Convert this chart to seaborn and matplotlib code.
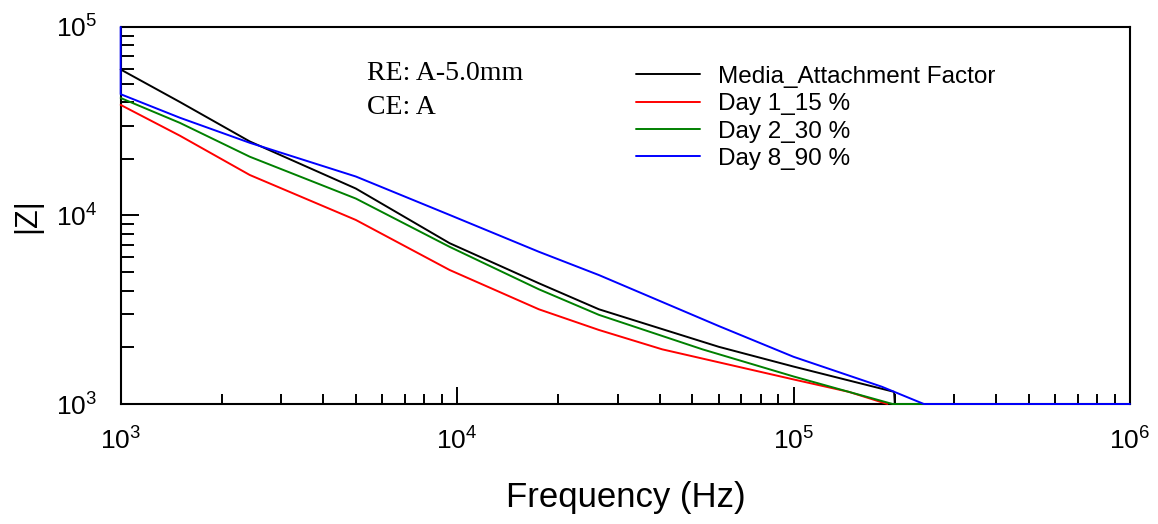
import matplotlib
matplotlib.use("Agg")

import numpy as np
import pandas as pd
import seaborn as sns
import matplotlib.pyplot as plt
from matplotlib.ticker import LogLocator, NullFormatter

# Impedance magnitude |Z| vs frequency
media_freq = [1000, 1500, 2420, 5000, 9500, 17500, 26400, 60000, 100000, 199000, 200000, 250000]
media_z = [59500, 40000, 24700, 13900, 7130, 4370, 3180, 2010, 1580, 1160, 1000, 1000]

day1_freq = [1000, 1500, 2420, 5000, 9500, 17500, 26400, 40700, 100000, 146000, 190000]
day1_z = [38600, 26500, 16400, 9470, 5140, 3180, 2470, 1950, 1350, 1160, 1000]

day2_freq = [1000, 1500, 2420, 5000, 9500, 17500, 26400, 53600, 100000, 146000, 197000, 244000]
day2_z = [42000, 31000, 20500, 12300, 6820, 4060, 2970, 1950, 1400, 1160, 1000, 1000]

day8_freq = [1000, 1000, 1500, 2420, 5000, 9500, 17500, 26400, 60000, 100000, 183000, 244000, 1000000]
day8_z = [100000, 44000, 33000, 24300, 16100, 10070, 6420, 4830, 2590, 1780, 1235, 1000, 1000]

series = ["Media_Attachment Factor", "Day 1_15 %", "Day 2_30 %", "Day 8_90 %"]
colors = ["#000000", "#ff0000", "#008000", "#0000ff"]

frames = []
for name, f, z in zip(series,
                      [media_freq, day1_freq, day2_freq, day8_freq],
                      [media_z, day1_z, day2_z, day8_z]):
    frames.append(pd.DataFrame({"freq": f, "z": z, "series": name}))
df = pd.concat(frames, ignore_index=True)

sns.set_style("white")
plt.rcParams["font.family"] = ["Liberation Sans", "DejaVu Sans"]
plt.rcParams["text.color"] = "black"
plt.rcParams["axes.labelcolor"] = "black"
plt.rcParams["xtick.color"] = "black"
plt.rcParams["ytick.color"] = "black"

fig = plt.figure(figsize=(11.58, 5.24), dpi=100)
ax = fig.add_axes([0.1042, 0.229, 0.8716, 0.7195])

sns.lineplot(data=df, x="freq", y="z", hue="series", hue_order=series,
             palette=colors, sort=False, estimator=None, linewidth=1.4,
             zorder=3, ax=ax)
for line in ax.lines:
    line.set_clip_on(False)

ax.set_xscale("log")
ax.set_yscale("log")
ax.set_xlim(1e3, 1e6)
ax.set_ylim(1e3, 1e5)

ax.xaxis.set_minor_locator(LogLocator(base=10, subs=np.arange(2, 10)))
ax.yaxis.set_minor_locator(LogLocator(base=10, subs=np.arange(2, 10)))
ax.xaxis.set_minor_formatter(NullFormatter())
ax.yaxis.set_minor_formatter(NullFormatter())

for s in ax.spines.values():
    s.set_color("black")
    s.set_linewidth(1.5)

ax.tick_params(axis="both", which="both", direction="in", colors="black",
               width=1.4, labelsize=19, bottom=True, left=True,
               top=False, right=False)
ax.tick_params(axis="x", which="major", length=12, pad=17)
ax.tick_params(axis="x", which="minor", length=7)
ax.tick_params(axis="y", which="major", length=13, pad=17)
ax.tick_params(axis="y", which="minor", length=9)

ax.set_xlabel("Frequency (Hz)", fontsize=25, labelpad=19)
ax.set_ylabel("|Z|", fontsize=22, labelpad=10)

ax.text(0.244, 0.859, "RE: A-5.0mm", transform=ax.transAxes, fontsize=20,
        family="Liberation Serif", va="baseline", ha="left")
ax.text(0.244, 0.769, "CE: A", transform=ax.transAxes, fontsize=20,
        family="Liberation Serif", va="baseline", ha="left")

ax.legend(loc="upper left", bbox_to_anchor=(0.511, 0.897), frameon=False,
          fontsize=17.5, handlelength=2.6, handletextpad=0.74,
          labelspacing=0.22, borderpad=0, borderaxespad=0)

fig.savefig("out.png", dpi=100)
plt.close(fig)
